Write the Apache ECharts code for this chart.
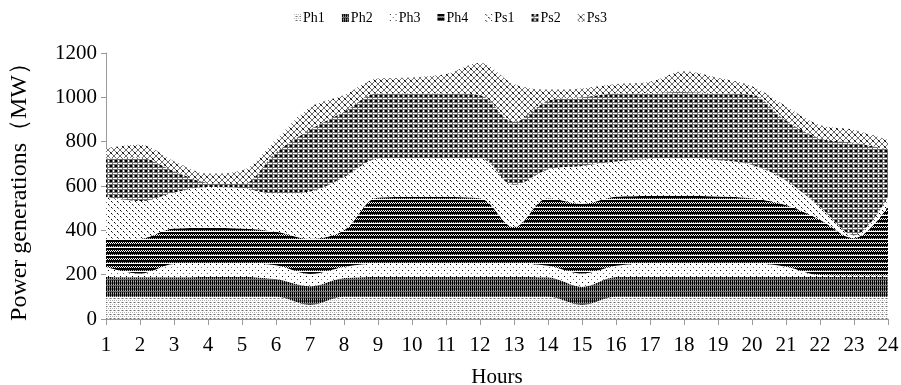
<!DOCTYPE html>
<html>
<head>
<meta charset="utf-8">
<script src="https://cdn.jsdelivr.net/npm/echarts@6/dist/echarts.min.js"></script>
<style>
html,body{margin:0;padding:0;background:#fff;}
#chart{width:901px;height:385px;}
</style>
</head>
<body>
<div id="chart"></div>
<script>
// ---- data ----
var hours = ['1','2','3','4','5','6','7','8','9','10','11','12','13','14','15','16','17','18','19','20','21','22','23','24'];
var seriesNames = ['Ph1','Ph2','Ph3','Ph4','Ps1','Ps2','Ps3'];
var ph1 = [100,100,100,100,100,100,63,100,100,100,100,100,100,100,63,100,100,100,100,100,100,100,100,100];
var ph2 = [90,88,88,90,90,80,85,85,90,90,90,90,90,88,83,90,90,90,90,90,90,90,90,90];
var ph3 = [45,17,60,60,60,62,55,50,60,60,60,60,60,52,59,50,60,60,60,60,46,8,6,6];
var ph4 = [125,157,160,160,158,152,159,165,298,300,300,295,165,305,315,312,305,306,303,295,278,250,168,311];
var ps1 = [190,170,162,185,182,171,213,240,175,175,175,180,190,130,170,158,167,169,164,150,111,57,14,45];
var ps2 = [175,196,98,20,20,187,280,295,295,293,293,285,285,310,310,308,298,299,301,317,270,310,417,213];
var ps3 = [45,58,44,41,60,58,100,75,67,72,87,145,170,50,40,42,50,94,70,38,65,60,58,43];
var yTicks = [0,200,400,600,800,1000,1200];

// ---- patterns (style only) ----
var shade = {'#':'#000000','+':'#6e6e6e','.':'#b4b4b4',' ':'#ffffff'};
function makePattern(rows){
  var h = rows.length, w = rows[0].length;
  var c = document.createElement('canvas');
  c.width = w; c.height = h;
  var ctx = c.getContext('2d');
  for (var y=0;y<h;y++){
    for (var x=0;x<w;x++){
      ctx.fillStyle = shade[rows[y][x]] || '#ffffff';
      ctx.fillRect(x,y,1,1);
    }
  }
  return {image:c, repeat:'repeat'};
}
var patterns = [
  makePattern([". . ","    "," .+.","    "]),
  makePattern(["#+#+","#+#+","#.#.","++++","#+#+","#.#."]),
  makePattern(["#     ","      ","      ","   +  ","      ","      "]),
  makePattern(["####","####","# # "," # #","####","####","#.#.","    "]),
  makePattern(["#     "," +    ","      ","   #  ","    + ","      "]),
  makePattern(["##+ +","##+ +","+++++","  +  ","+++++"]),
  makePattern(["+    +"," +  + ","  #+  ","  +#  "," +  + ","+    +"])
];

var dataArrays = [ph1,ph2,ph3,ph4,ps1,ps2,ps3];
var series = seriesNames.map(function(n,i){
  return {
    name:n, type:'line', stack:'total', smooth:0.35,
    symbol:'none', showSymbol:false,
    lineStyle:{width:0, opacity:0},
    itemStyle:{color:patterns[i]},
    areaStyle:{color:patterns[i], opacity:1},
    data:dataArrays[i]
  };
});

var chart = echarts.init(document.getElementById('chart'), null, {renderer:'canvas'});
chart.setOption({
  animation:false,
  backgroundColor:'#ffffff',
  textStyle:{fontFamily:'Liberation Serif'},
  legend:{
    data:seriesNames, top:6, left:'center', icon:'rect',
    itemWidth:7, itemHeight:8, itemGap:17,
    textStyle:{fontFamily:'Liberation Serif', fontSize:14, color:'#000', padding:[0,0,0,-3]}
  },
  grid:{left:106, right:13, top:53, bottom:66, containLabel:false, outerBoundsMode:'none'},
  xAxis:{
    type:'category', data:hours, boundaryGap:false,
    name:'Hours', nameLocation:'middle', nameGap:48,
    nameTextStyle:{fontFamily:'Liberation Serif', fontSize:21, color:'#000'},
    axisLine:{lineStyle:{color:'#9a9a9a', width:1}},
    axisTick:{show:true, length:6, lineStyle:{color:'#9a9a9a'}},
    axisLabel:{fontFamily:'Liberation Serif', fontSize:21, color:'#000', margin:16}
  },
  yAxis:{
    type:'value', min:yTicks[0], max:yTicks[yTicks.length-1], interval:200,
    name:'Power generations（MW）', nameLocation:'middle', nameGap:74, nameRotate:90,
    nameTextStyle:{fontFamily:'Liberation Serif', fontSize:24, color:'#000'},
    axisLine:{show:true, lineStyle:{color:'#9a9a9a', width:1}},
    axisTick:{show:true, length:5, lineStyle:{color:'#9a9a9a'}},
    splitLine:{show:false},
    axisLabel:{fontFamily:'Liberation Serif', fontSize:21, color:'#000', margin:9,
      formatter:function(v){return String(v);}}
  },
  series:series
});
</script>
</body>
</html>
